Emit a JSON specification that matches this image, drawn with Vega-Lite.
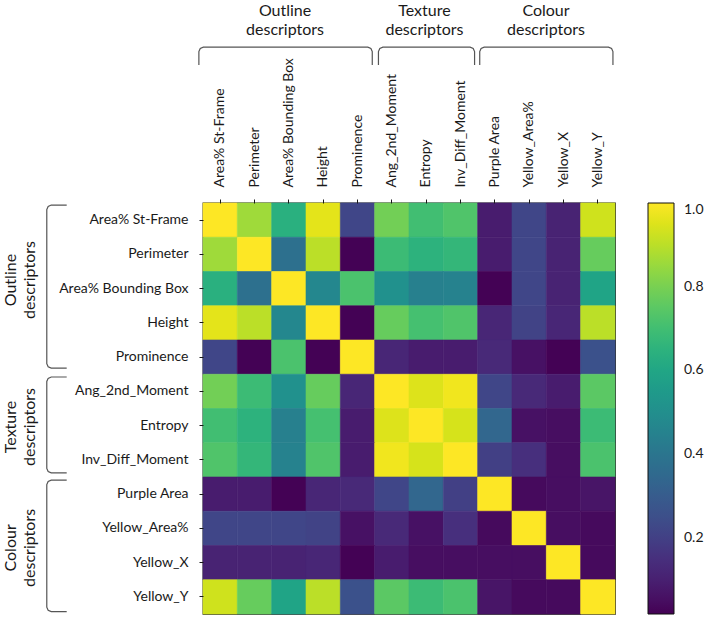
{
"$schema": "https://vega.github.io/schema/vega-lite/v6.json",
"autosize": {"type": "none"},
"width": 412,
"height": 411,
"padding": {"left": 203, "top": 203, "right": 91, "bottom": 3},
"background": "white",
"config": {"view": {"stroke": "#111", "strokeWidth": 1.3}, "font": "Lato"},
"datasets": {
"m": [
{"r":"Area% St-Frame","c":"Area% St-Frame","v":1},{"r":"Area% St-Frame","c":"Perimeter","v":0.86},{"r":"Area% St-Frame","c":"Area% Bounding Box","v":0.64},{"r":"Area% St-Frame","c":"Height","v":0.96},{"r":"Area% St-Frame","c":"Prominence","v":0.22},{"r":"Area% St-Frame","c":"Ang_2nd_Moment","v":0.79},{"r":"Area% St-Frame","c":"Entropy","v":0.7},{"r":"Area% St-Frame","c":"Inv_Diff_Moment","v":0.73},{"r":"Area% St-Frame","c":"Purple Area","v":0.09},{"r":"Area% St-Frame","c":"Yellow_Area%","v":0.22},{"r":"Area% St-Frame","c":"Yellow_X","v":0.11},{"r":"Area% St-Frame","c":"Yellow_Y","v":0.93},
{"r":"Perimeter","c":"Area% St-Frame","v":0.86},{"r":"Perimeter","c":"Perimeter","v":1},{"r":"Perimeter","c":"Area% Bounding Box","v":0.38},{"r":"Perimeter","c":"Height","v":0.9},{"r":"Perimeter","c":"Prominence","v":0.02},{"r":"Perimeter","c":"Ang_2nd_Moment","v":0.69},{"r":"Perimeter","c":"Entropy","v":0.65},{"r":"Perimeter","c":"Inv_Diff_Moment","v":0.67},{"r":"Perimeter","c":"Purple Area","v":0.09},{"r":"Perimeter","c":"Yellow_Area%","v":0.22},{"r":"Perimeter","c":"Yellow_X","v":0.11},{"r":"Perimeter","c":"Yellow_Y","v":0.77},
{"r":"Area% Bounding Box","c":"Area% St-Frame","v":0.64},{"r":"Area% Bounding Box","c":"Perimeter","v":0.38},{"r":"Area% Bounding Box","c":"Area% Bounding Box","v":1},{"r":"Area% Bounding Box","c":"Height","v":0.47},{"r":"Area% Bounding Box","c":"Prominence","v":0.72},{"r":"Area% Bounding Box","c":"Ang_2nd_Moment","v":0.51},{"r":"Area% Bounding Box","c":"Entropy","v":0.44},{"r":"Area% Bounding Box","c":"Inv_Diff_Moment","v":0.45},{"r":"Area% Bounding Box","c":"Purple Area","v":0.02},{"r":"Area% Bounding Box","c":"Yellow_Area%","v":0.22},{"r":"Area% Bounding Box","c":"Yellow_X","v":0.11},{"r":"Area% Bounding Box","c":"Yellow_Y","v":0.59},
{"r":"Height","c":"Area% St-Frame","v":0.96},{"r":"Height","c":"Perimeter","v":0.9},{"r":"Height","c":"Area% Bounding Box","v":0.47},{"r":"Height","c":"Height","v":1},{"r":"Height","c":"Prominence","v":0.02},{"r":"Height","c":"Ang_2nd_Moment","v":0.77},{"r":"Height","c":"Entropy","v":0.71},{"r":"Height","c":"Inv_Diff_Moment","v":0.73},{"r":"Height","c":"Purple Area","v":0.12},{"r":"Height","c":"Yellow_Area%","v":0.21},{"r":"Height","c":"Yellow_X","v":0.12},{"r":"Height","c":"Yellow_Y","v":0.9},
{"r":"Prominence","c":"Area% St-Frame","v":0.22},{"r":"Prominence","c":"Perimeter","v":0.02},{"r":"Prominence","c":"Area% Bounding Box","v":0.72},{"r":"Prominence","c":"Height","v":0.02},{"r":"Prominence","c":"Prominence","v":1},{"r":"Prominence","c":"Ang_2nd_Moment","v":0.12},{"r":"Prominence","c":"Entropy","v":0.09},{"r":"Prominence","c":"Inv_Diff_Moment","v":0.09},{"r":"Prominence","c":"Purple Area","v":0.13},{"r":"Prominence","c":"Yellow_Area%","v":0.06},{"r":"Prominence","c":"Yellow_X","v":0.02},{"r":"Prominence","c":"Yellow_Y","v":0.26},
{"r":"Ang_2nd_Moment","c":"Area% St-Frame","v":0.79},{"r":"Ang_2nd_Moment","c":"Perimeter","v":0.69},{"r":"Ang_2nd_Moment","c":"Area% Bounding Box","v":0.51},{"r":"Ang_2nd_Moment","c":"Height","v":0.77},{"r":"Ang_2nd_Moment","c":"Prominence","v":0.12},{"r":"Ang_2nd_Moment","c":"Ang_2nd_Moment","v":1},{"r":"Ang_2nd_Moment","c":"Entropy","v":0.95},{"r":"Ang_2nd_Moment","c":"Inv_Diff_Moment","v":0.98},{"r":"Ang_2nd_Moment","c":"Purple Area","v":0.22},{"r":"Ang_2nd_Moment","c":"Yellow_Area%","v":0.13},{"r":"Ang_2nd_Moment","c":"Yellow_X","v":0.09},{"r":"Ang_2nd_Moment","c":"Yellow_Y","v":0.75},
{"r":"Entropy","c":"Area% St-Frame","v":0.7},{"r":"Entropy","c":"Perimeter","v":0.65},{"r":"Entropy","c":"Area% Bounding Box","v":0.44},{"r":"Entropy","c":"Height","v":0.71},{"r":"Entropy","c":"Prominence","v":0.09},{"r":"Entropy","c":"Ang_2nd_Moment","v":0.95},{"r":"Entropy","c":"Entropy","v":1},{"r":"Entropy","c":"Inv_Diff_Moment","v":0.94},{"r":"Entropy","c":"Purple Area","v":0.34},{"r":"Entropy","c":"Yellow_Area%","v":0.06},{"r":"Entropy","c":"Yellow_X","v":0.05},{"r":"Entropy","c":"Yellow_Y","v":0.69},
{"r":"Inv_Diff_Moment","c":"Area% St-Frame","v":0.73},{"r":"Inv_Diff_Moment","c":"Perimeter","v":0.67},{"r":"Inv_Diff_Moment","c":"Area% Bounding Box","v":0.45},{"r":"Inv_Diff_Moment","c":"Height","v":0.73},{"r":"Inv_Diff_Moment","c":"Prominence","v":0.09},{"r":"Inv_Diff_Moment","c":"Ang_2nd_Moment","v":0.98},{"r":"Inv_Diff_Moment","c":"Entropy","v":0.94},{"r":"Inv_Diff_Moment","c":"Inv_Diff_Moment","v":1},{"r":"Inv_Diff_Moment","c":"Purple Area","v":0.2},{"r":"Inv_Diff_Moment","c":"Yellow_Area%","v":0.15},{"r":"Inv_Diff_Moment","c":"Yellow_X","v":0.05},{"r":"Inv_Diff_Moment","c":"Yellow_Y","v":0.72},
{"r":"Purple Area","c":"Area% St-Frame","v":0.09},{"r":"Purple Area","c":"Perimeter","v":0.09},{"r":"Purple Area","c":"Area% Bounding Box","v":0.02},{"r":"Purple Area","c":"Height","v":0.12},{"r":"Purple Area","c":"Prominence","v":0.13},{"r":"Purple Area","c":"Ang_2nd_Moment","v":0.22},{"r":"Purple Area","c":"Entropy","v":0.34},{"r":"Purple Area","c":"Inv_Diff_Moment","v":0.2},{"r":"Purple Area","c":"Purple Area","v":1},{"r":"Purple Area","c":"Yellow_Area%","v":0.04},{"r":"Purple Area","c":"Yellow_X","v":0.05},{"r":"Purple Area","c":"Yellow_Y","v":0.07},
{"r":"Yellow_Area%","c":"Area% St-Frame","v":0.22},{"r":"Yellow_Area%","c":"Perimeter","v":0.22},{"r":"Yellow_Area%","c":"Area% Bounding Box","v":0.22},{"r":"Yellow_Area%","c":"Height","v":0.21},{"r":"Yellow_Area%","c":"Prominence","v":0.06},{"r":"Yellow_Area%","c":"Ang_2nd_Moment","v":0.13},{"r":"Yellow_Area%","c":"Entropy","v":0.06},{"r":"Yellow_Area%","c":"Inv_Diff_Moment","v":0.15},{"r":"Yellow_Area%","c":"Purple Area","v":0.04},{"r":"Yellow_Area%","c":"Yellow_Area%","v":1},{"r":"Yellow_Area%","c":"Yellow_X","v":0.05},{"r":"Yellow_Area%","c":"Yellow_Y","v":0.04},
{"r":"Yellow_X","c":"Area% St-Frame","v":0.11},{"r":"Yellow_X","c":"Perimeter","v":0.11},{"r":"Yellow_X","c":"Area% Bounding Box","v":0.11},{"r":"Yellow_X","c":"Height","v":0.12},{"r":"Yellow_X","c":"Prominence","v":0.02},{"r":"Yellow_X","c":"Ang_2nd_Moment","v":0.09},{"r":"Yellow_X","c":"Entropy","v":0.05},{"r":"Yellow_X","c":"Inv_Diff_Moment","v":0.05},{"r":"Yellow_X","c":"Purple Area","v":0.05},{"r":"Yellow_X","c":"Yellow_Area%","v":0.05},{"r":"Yellow_X","c":"Yellow_X","v":1},{"r":"Yellow_X","c":"Yellow_Y","v":0.04},
{"r":"Yellow_Y","c":"Area% St-Frame","v":0.93},{"r":"Yellow_Y","c":"Perimeter","v":0.77},{"r":"Yellow_Y","c":"Area% Bounding Box","v":0.59},{"r":"Yellow_Y","c":"Height","v":0.9},{"r":"Yellow_Y","c":"Prominence","v":0.26},{"r":"Yellow_Y","c":"Ang_2nd_Moment","v":0.75},{"r":"Yellow_Y","c":"Entropy","v":0.69},{"r":"Yellow_Y","c":"Inv_Diff_Moment","v":0.72},{"r":"Yellow_Y","c":"Purple Area","v":0.07},{"r":"Yellow_Y","c":"Yellow_Area%","v":0.04},{"r":"Yellow_Y","c":"Yellow_X","v":0.04},{"r":"Yellow_Y","c":"Yellow_Y","v":1}
],
"br": [
{"g":"t1","k":0,"bx":-0.12,"by":-4.03},{"g":"t1","k":1,"bx":-0.12,"by":-4.42},{"g":"t1","k":2,"bx":-0.08,"by":-4.51},{"g":"t1","k":3,"bx":0.01,"by":-4.55},{"g":"t1","k":4,"bx":4.8,"by":-4.55},{"g":"t1","k":5,"bx":4.89,"by":-4.51},{"g":"t1","k":6,"bx":4.93,"by":-4.42},{"g":"t1","k":7,"bx":4.93,"by":-4.03},
{"g":"t2","k":0,"bx":5.11,"by":-4.03},{"g":"t2","k":1,"bx":5.11,"by":-4.42},{"g":"t2","k":2,"bx":5.15,"by":-4.51},{"g":"t2","k":3,"bx":5.24,"by":-4.55},{"g":"t2","k":4,"bx":7.78,"by":-4.55},{"g":"t2","k":5,"bx":7.87,"by":-4.51},{"g":"t2","k":6,"bx":7.91,"by":-4.42},{"g":"t2","k":7,"bx":7.91,"by":-4.03},
{"g":"t3","k":0,"bx":8.06,"by":-4.03},{"g":"t3","k":1,"bx":8.06,"by":-4.42},{"g":"t3","k":2,"bx":8.1,"by":-4.51},{"g":"t3","k":3,"bx":8.19,"by":-4.55},{"g":"t3","k":4,"bx":11.81,"by":-4.55},{"g":"t3","k":5,"bx":11.9,"by":-4.51},{"g":"t3","k":6,"bx":11.94,"by":-4.42},{"g":"t3","k":7,"bx":11.94,"by":-4.03},
{"g":"l1","k":0,"bx":-3.97,"by":0.06},{"g":"l1","k":1,"bx":-4.42,"by":0.06},{"g":"l1","k":2,"bx":-4.51,"by":0.1},{"g":"l1","k":3,"bx":-4.55,"by":0.19},{"g":"l1","k":4,"bx":-4.55,"by":4.69},{"g":"l1","k":5,"bx":-4.51,"by":4.78},{"g":"l1","k":6,"bx":-4.42,"by":4.82},{"g":"l1","k":7,"bx":-3.97,"by":4.82},
{"g":"l2","k":0,"bx":-3.97,"by":5.08},{"g":"l2","k":1,"bx":-4.42,"by":5.08},{"g":"l2","k":2,"bx":-4.51,"by":5.12},{"g":"l2","k":3,"bx":-4.55,"by":5.21},{"g":"l2","k":4,"bx":-4.55,"by":7.75},{"g":"l2","k":5,"bx":-4.51,"by":7.84},{"g":"l2","k":6,"bx":-4.42,"by":7.88},{"g":"l2","k":7,"bx":-3.97,"by":7.88},
{"g":"l3","k":0,"bx":-3.97,"by":8.09},{"g":"l3","k":1,"bx":-4.42,"by":8.09},{"g":"l3","k":2,"bx":-4.51,"by":8.13},{"g":"l3","k":3,"bx":-4.55,"by":8.22},{"g":"l3","k":4,"bx":-4.55,"by":11.8},{"g":"l3","k":5,"bx":-4.51,"by":11.89},{"g":"l3","k":6,"bx":-4.42,"by":11.93},{"g":"l3","k":7,"bx":-3.97,"by":11.93}
],
"tt": [
{"t":"Outline\ndescriptors","tx":2.39,"ty":-5.6},
{"t":"Texture\ndescriptors","tx":6.45,"ty":-5.6},
{"t":"Colour\ndescriptors","tx":9.99,"ty":-5.6}
],
"lt": [
{"t":"Outline\ndescriptors","tx":-5.6,"ty":2.25},
{"t":"Texture\ndescriptors","tx":-5.6,"ty":6.54},
{"t":"Colour\ndescriptors","tx":-5.6,"ty":10.07}
]
},
"layer": [
{
"data": {"name": "m"},
"mark": {"type": "rect", "strokeWidth": 0.6, "stroke": {"expr": "scale('color', datum.v)"}},
"encoding": {
"x": {"field": "c", "type": "nominal",
"sort": ["Area% St-Frame","Perimeter","Area% Bounding Box","Height","Prominence","Ang_2nd_Moment","Entropy","Inv_Diff_Moment","Purple Area","Yellow_Area%","Yellow_X","Yellow_Y"],
"scale": {"paddingInner": 0, "paddingOuter": 0},
"axis": {"orient": "top", "title": null, "labelAngle": -90, "labelAlign": "left", "labelBaseline": "middle", "labelFontSize": 14, "labelColor": "#1a1a1a", "tickSize": 4, "tickColor": "#1a1a1a", "labelPadding": 12, "domain": false, "labelOverlap": false}},
"y": {"field": "r", "type": "nominal",
"sort": ["Area% St-Frame","Perimeter","Area% Bounding Box","Height","Prominence","Ang_2nd_Moment","Entropy","Inv_Diff_Moment","Purple Area","Yellow_Area%","Yellow_X","Yellow_Y"],
"scale": {"paddingInner": 0, "paddingOuter": 0},
"axis": {"title": null, "labelFontSize": 14, "labelColor": "#1a1a1a", "tickSize": 4, "tickColor": "#1a1a1a", "labelPadding": 11, "domain": false, "labelOverlap": false}},
"color": {"field": "v", "type": "quantitative",
"scale": {"scheme": "viridis", "domain": [0.018, 1]},
"legend": {"title": null, "orient": "right", "offset": 32, "direction": "vertical", "gradientLength": 411, "gradientThickness": 26, "gradientStrokeColor": "#111", "gradientStrokeWidth": 1, "values": [0.2, 0.4, 0.6, 0.8, 1.0], "format": ".1f", "labelFontSize": 14, "labelColor": "#1a1a1a", "labelOffset": 10, "labelOverlap": false}}
}
},
{
"data": {"name": "br"},
"mark": {"type": "line", "stroke": "#555", "strokeWidth": 1.2, "clip": false},
"encoding": {
"x": {"field": "bx", "type": "quantitative", "scale": {"domain": [0, 12], "nice": false, "zero": false}, "axis": null},
"y": {"field": "by", "type": "quantitative", "scale": {"domain": [0, 12], "nice": false, "zero": false, "reverse": true}, "axis": null},
"detail": {"field": "g"},
"order": {"field": "k", "type": "quantitative"}
}
},
{
"data": {"name": "tt"},
"mark": {"type": "text", "fontSize": 16, "lineBreak": "\n", "lineHeight": 19, "align": "center", "baseline": "middle", "color": "#1a1a1a", "clip": false},
"encoding": {
"x": {"field": "tx", "type": "quantitative", "scale": {"domain": [0, 12], "nice": false, "zero": false}, "axis": null},
"y": {"field": "ty", "type": "quantitative", "scale": {"domain": [0, 12], "nice": false, "zero": false, "reverse": true}, "axis": null},
"text": {"field": "t"}
}
},
{
"data": {"name": "lt"},
"mark": {"type": "text", "fontSize": 16, "lineBreak": "\n", "lineHeight": 19, "align": "center", "baseline": "middle", "angle": -90, "color": "#1a1a1a", "clip": false},
"encoding": {
"x": {"field": "tx", "type": "quantitative", "scale": {"domain": [0, 12], "nice": false, "zero": false}, "axis": null},
"y": {"field": "ty", "type": "quantitative", "scale": {"domain": [0, 12], "nice": false, "zero": false, "reverse": true}, "axis": null},
"text": {"field": "t"}
}
}
],
"resolve": {"scale": {"x": "independent", "y": "independent"}}
}
